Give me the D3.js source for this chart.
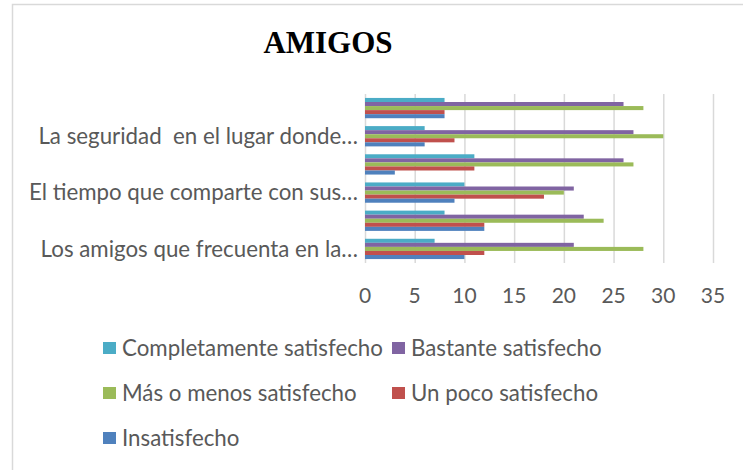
<!DOCTYPE html>
<html>
<head>
<meta charset="utf-8">
<script src="https://cdn.jsdelivr.net/npm/d3@7"></script>
<style>
    body { margin: 0; background: #fff; }
    .tick-label, .cat-label, .legend-label { font-family: Lato, "Open Sans", sans-serif; fill: #595959; white-space: pre; }
</style>
</head>
<body>
<div id="chart"></div>
<script>
// categories, bottom to top (only every other one is labelled in the original)
const categories = [
    'Los amigos que frecuenta en la…',
    '',
    'El tiempo que comparte con sus…',
    '',
    'La seguridad  en el lugar donde…',
    ''
];

// series, in legend order
const seriesNames = [
    'Completamente satisfecho',
    'Bastante satisfecho',
    'Más o menos satisfecho',
    'Un poco satisfecho',
    'Insatisfecho'
];
const seriesColors = ['#4BACC6', '#8064A2', '#9BBB59', '#C0504D', '#4F81BD'];

// values per category (bottom to top)
const completamente = [7, 8, 10, 11, 6, 8];
const bastante      = [21, 22, 21, 26, 27, 26];
const masOMenos     = [28, 24, 20, 27, 30, 28];
const unPoco        = [12, 12, 18, 11, 9, 8];
const insatisfecho  = [10, 12, 9, 3, 6, 8];

const xTicks = [0, 5, 10, 15, 20, 25, 30, 35];

const seriesValues = [completamente, bastante, masOMenos, unPoco, insatisfecho];

const width = 743, height = 470;
const plot = { left: 365, right: 713, top: 94, bottom: 263 };

const svg = d3.select('#chart').append('svg')
    .attr('width', width)
    .attr('height', height);

// outer frame
svg.append('rect')
    .attr('x', 12.5)
    .attr('y', 4.5)
    .attr('width', 800)
    .attr('height', 600)
    .attr('fill', 'none')
    .attr('stroke', '#d9d9d9')
    .attr('stroke-width', 1.5);

// title
svg.append('text')
    .attr('x', 328)
    .attr('y', 53)
    .attr('text-anchor', 'middle')
    .style('font-family', '"Liberation Serif", "Times New Roman", serif')
    .style('font-weight', 'bold')
    .style('font-size', '31px')
    .text('AMIGOS');

// scales
const xScale = d3.scaleLinear()
    .domain([0, 35])
    .range([plot.left, plot.right]);

const yScale = d3.scaleBand()
    .domain(d3.range(categories.length).reverse())
    .range([plot.top, plot.bottom])
    .paddingInner(0.28)
    .paddingOuter(0.14);

const ySub = d3.scaleBand()
    .domain(seriesNames)
    .range([0, yScale.bandwidth()]);

// gridlines
const xAxis = d3.axisBottom(xScale)
    .tickValues(xTicks)
    .tickSize(plot.bottom - plot.top)
    .tickFormat('');

svg.append('g')
    .attr('class', 'grid')
    .attr('transform', `translate(0,${plot.top})`)
    .call(xAxis)
    .call(g => g.select('.domain').remove())
    .call(g => g.selectAll('.tick line').attr('stroke', '#d9d9d9').attr('stroke-width', 1.5));

// bars
const barData = [];
categories.forEach((c, i) => {
    seriesNames.forEach((s, j) => {
        barData.push({ cat: i, series: s, color: seriesColors[j], value: seriesValues[j][i] });
    });
});

svg.append('g')
    .selectAll('rect')
    .data(barData)
    .join('rect')
        .attr('x', xScale(0))
        .attr('y', d => yScale(d.cat) + ySub(d.series))
        .attr('width', d => xScale(d.value) - xScale(0))
        .attr('height', ySub.bandwidth())
        .attr('fill', d => d.color);

// tick labels
svg.append('g')
    .selectAll('text')
    .data(xTicks)
    .join('text')
        .attr('class', 'tick-label')
        .attr('x', d => xScale(d))
        .attr('y', 296)
        .attr('dy', '0.35em')
        .attr('text-anchor', 'middle')
        .style('font-size', '21px')
        .text(d => d);

// category labels
svg.append('g')
    .selectAll('text')
    .data(categories)
    .join('text')
        .attr('class', 'cat-label')
        .attr('x', 358)
        .attr('y', (d, i) => yScale(i) + yScale.bandwidth() / 2)
        .attr('dy', '0.35em')
        .attr('text-anchor', 'end')
        .style('font-size', '22.3px')
        .text(d => d);

// legend
const legendCols = [103, 392];
const legendRows = [348, 393, 438];

const legend = svg.append('g')
    .selectAll('g')
    .data(seriesNames)
    .join('g')
        .attr('transform', (d, i) => `translate(${legendCols[i % 2]},${legendRows[Math.floor(i / 2)]})`);

legend.append('rect')
    .attr('x', 0)
    .attr('y', -6)
    .attr('width', 13)
    .attr('height', 12)
    .attr('fill', (d, i) => seriesColors[i]);

legend.append('text')
    .attr('class', 'legend-label')
    .attr('x', 19)
    .attr('y', 0)
    .attr('dy', '0.35em')
    .style('font-size', '22.3px')
    .text(d => d);
</script>
</body>
</html>
